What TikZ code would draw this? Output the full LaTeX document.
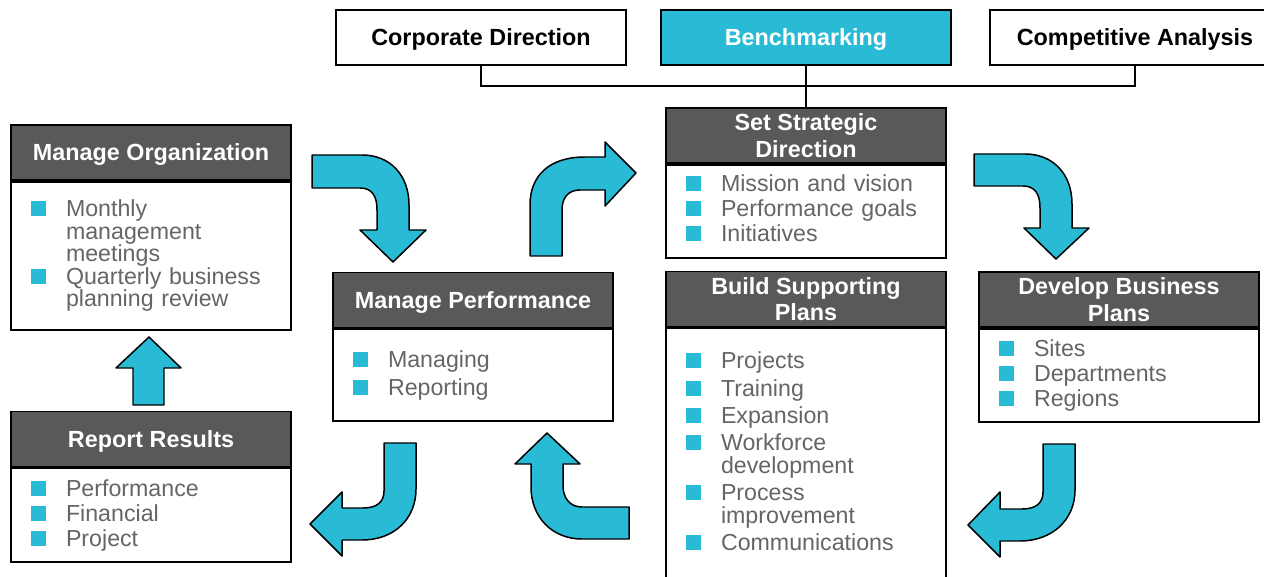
\documentclass[tikz,border=0pt]{standalone}
\usepackage{fontspec}
\setmainfont{Liberation Sans}
\usepackage{tikz}
\setlength{\parindent}{0pt}
\setlength{\lineskiplimit}{-20pt}
\definecolor{tcyan}{RGB}{41,187,214}
\definecolor{hgray}{RGB}{88,89,91}
\definecolor{tgray}{RGB}{100,101,104}
\newcommand{\bsq}{\makebox[0.7cm][l]{\textcolor{tcyan}{\rule[0.3pt]{8.5pt}{8.5pt}}}}
\newcommand{\cont}{\hspace*{0.7cm}}
\tikzset{
  topbox/.style={draw, line width=1.1pt, minimum width=5.8cm, minimum height=1.1cm, inner sep=0pt,
    text depth=0pt, font=\fontsize{13.3pt}{15pt}\selectfont\bfseries},
  hdr/.style={draw, fill=hgray, text=white, line width=1.1pt, minimum width=5.6cm, minimum height=1.1cm,
    inner sep=0pt, align=center, font=\fontsize{13.3pt}{15pt}\selectfont\bfseries},
  hdrone/.style={hdr, text depth=0pt},
  body/.style={draw, line width=1.1pt, anchor=north, minimum width=5.6cm, text width=4.8cm,
    inner xsep=0.4cm, inner ysep=0pt, align=left, text=tgray, font=\fontsize{13.2pt}{12.8pt}\selectfont},
  lifted/.style={execute at end node={\par\vspace{3.4pt}}},
  blk/.style={fill=tcyan, draw=black, line width=0.85pt, line join=round}
}
\begin{document}
\begin{tikzpicture}[x=0.02cm, y=-0.02cm]
\useasboundingbox (0,0) rectangle (1264,577);
\node[topbox] (corp) at (481,37.5) {Corporate Direction};
\node[topbox, fill=tcyan, text=white] (bench) at (806,37.5) {Benchmarking};
\node[topbox] (comp) at (1135,37.5) {Competitive Analysis};
\coordinate (jn) at (806,86);
\draw[line width=1.1pt] (corp.south) |- (jn) -| (comp.south);
\draw[line width=1.1pt] (bench.south) -- (806,108);
\node[hdr] (ssd) at (806,135.5) {Set Strategic\\Direction};
\node[body, lifted, minimum height=1.86cm] (ssdb) at (ssd.south) {\bsq Mission and vision\par\vspace{1.4pt}
\bsq Performance goals\par\vspace{1.4pt} \bsq Initiatives};
\node[hdr] (bsp) at (806,299) {Build Supporting\\Plans};
\node[body, lifted, minimum height=5.04cm] (bspb) at (bsp.south) {\bsq Projects\par\vspace{2.8pt}
\bsq Training\par\vspace{2.8pt} \bsq Expansion\par\vspace{2.8pt}
\bsq Workforce\par \cont development\par\vspace{2.8pt} \bsq Process\par \cont improvement\par\vspace{2.8pt}
\bsq Communications};
\node[hdr] (dbp) at (1119,299.5) {Develop Business\\Plans};
\node[body, minimum height=1.86cm] (dbpb) at (dbp.south) {\bsq Sites\par\vspace{1.4pt}
\bsq Departments\par\vspace{1.4pt} \bsq Regions};
\node[hdrone] (mp) at (473,300) {Manage Performance};
\node[body, minimum height=1.84cm] (mpb) at (mp.south) {\bsq Managing\par\vspace{3pt} \bsq Reporting};
\node[hdrone] (mo) at (151,152.5) {Manage Organization};
\node[body, minimum height=2.96cm] (mob) at (mo.south) {\bsq Monthly\par \cont management\par
\cont meetings\par \bsq Quarterly business\par \cont planning review};
\node[hdrone] (rr) at (151,439) {Report Results};
\node[body, minimum height=1.88cm] (rrb) at (rr.south) {\bsq Performance\par\vspace{1.4pt}
\bsq Financial\par\vspace{1.4pt} \bsq Project};
\draw[blk] (312,155) -- (362,155) .. controls (390,155) and (409,175) .. (409,205) -- (409,230) -- (426,230)
  -- (393,262) -- (360,230) -- (377,230) -- (377,210) .. controls (377,196) and (372,188) .. (360,188) -- (312,188) -- cycle;
\draw[blk] (530,256) -- (530,205) .. controls (530,175) and (550,157) .. (585,157) -- (605,157) -- (605,142)
  -- (636,173) -- (605,206) -- (605,190) -- (580,190) .. controls (568,190) and (562,198) .. (562,210) -- (562,256) -- cycle;
\draw[blk] (974,154) -- (1025,154) .. controls (1053,154) and (1072,174) .. (1072,204) -- (1072,228) -- (1089,228)
  -- (1056,259) -- (1024,228) -- (1040,228) -- (1040,208) .. controls (1040,194) and (1035,186) .. (1023,186) -- (974,186) -- cycle;
\draw[blk] (1043,444) -- (1043,492) .. controls (1043,503) and (1036,509) .. (1022,509) -- (1000,509) -- (1000,492)
  -- (968,525) -- (1000,557) -- (1000,541) -- (1020,541) .. controls (1052,541) and (1075,520) .. (1075,490) -- (1075,444) -- cycle;
\draw[blk] (629,507) -- (582,507) .. controls (570,507) and (563,498) .. (563,486) -- (563,464) -- (580,464)
  -- (547,433) -- (515,464) -- (531,464) -- (531,487) .. controls (531,517) and (552,539) .. (582,539) -- (629,539) -- cycle;
\draw[blk] (384,443) -- (384,491) .. controls (384,502) and (377,508) .. (363,508) -- (342,508) -- (342,492)
  -- (310,524) -- (342,556) -- (342,540) -- (362,540) .. controls (394,540) and (416,519) .. (416,489) -- (416,443) -- cycle;
\draw[blk] (133,405) -- (133,368) -- (116,368) -- (149,337) -- (181,368) -- (164,368) -- (164,405) -- cycle;
\end{tikzpicture}
\end{document}
